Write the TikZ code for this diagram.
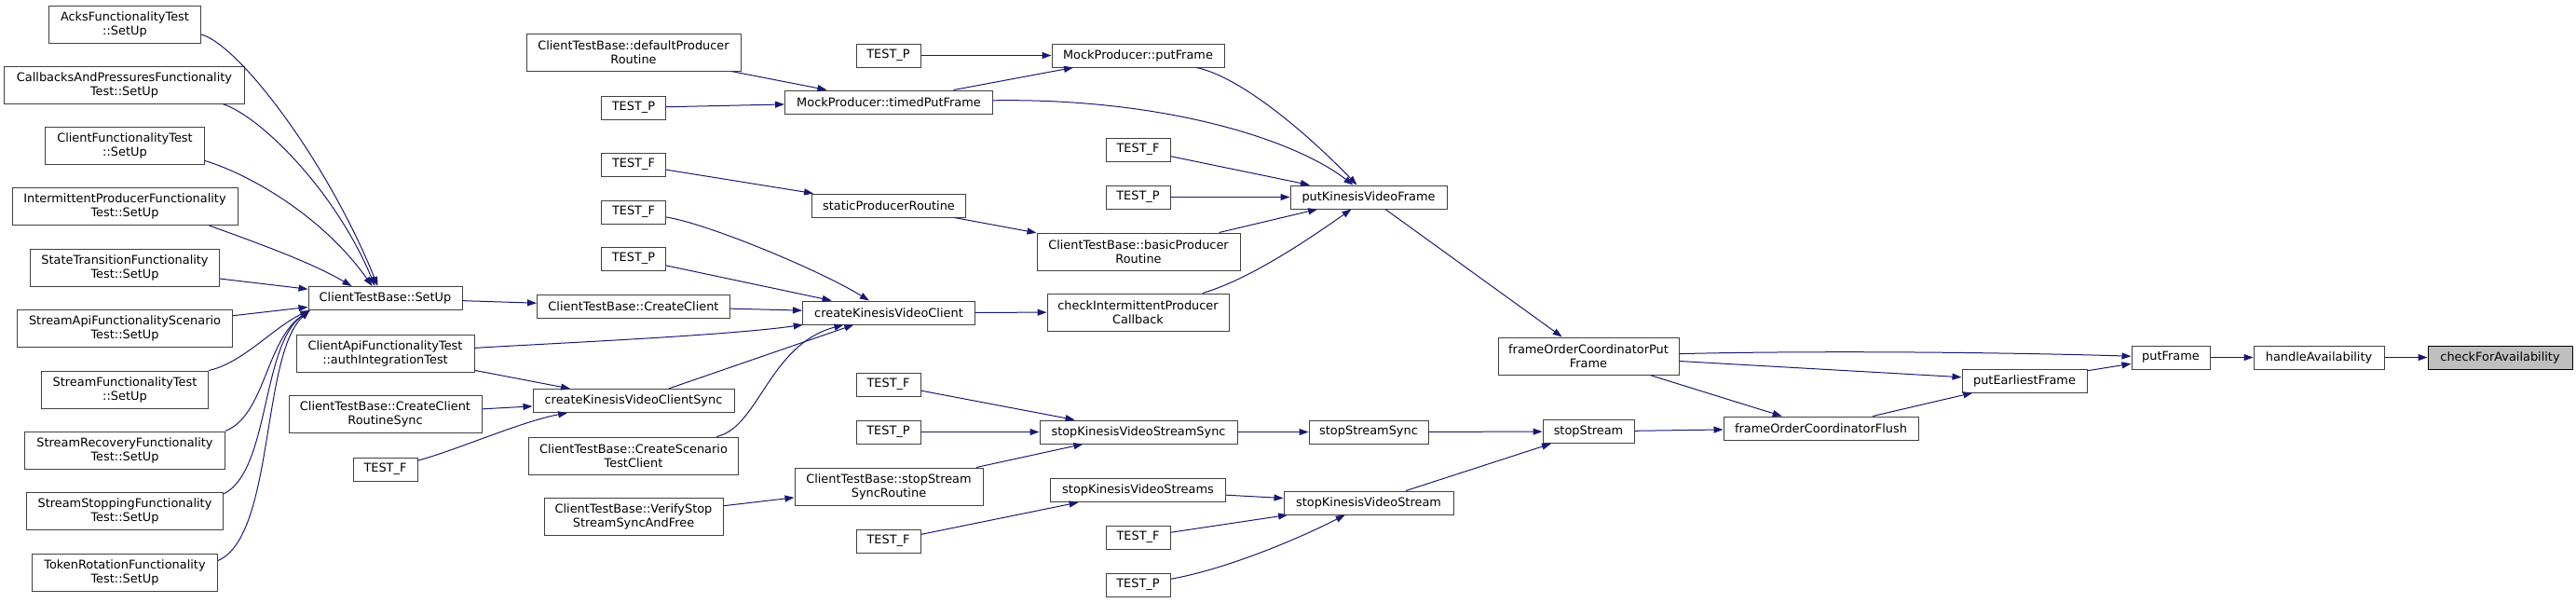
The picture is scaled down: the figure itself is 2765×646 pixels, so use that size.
\documentclass[tikz,border=0pt]{standalone}
\usepackage{fontspec}
\setmainfont{DejaVu Sans}
\usepackage{xcolor}
\usetikzlibrary{arrows.meta}
\definecolor{edgeblue}{HTML}{191970}
\definecolor{rootgray}{HTML}{BFBFBF}

\begin{document}
\begin{tikzpicture}[x=1pt,y=-1pt,>={Triangle[length=10pt,width=7pt]},
  fn/.style={draw=black!75,line width=1pt,fill=white,inner sep=0pt,minimum height=25pt,align=center,font=\fontsize{12.9}{15}\selectfont},
  fn2/.style={fn,minimum height=40pt},
  call/.style={->,edgeblue,line width=1pt}]
\useasboundingbox (0,0) rectangle (2765,646);
\node[fn2,minimum width=163pt] (acks) at (134,26) {AcksFunctionalityTest\\::SetUp};
\node[fn2,minimum width=258pt] (cbp) at (133.5,91) {CallbacksAndPressuresFunctionality\\Test::SetUp};
\node[fn2,minimum width=171pt] (cft) at (134,156) {ClientFunctionalityTest\\::SetUp};
\node[fn2,minimum width=242pt] (ipf) at (134,221.5) {IntermittentProducerFunctionality\\Test::SetUp};
\node[fn2,minimum width=203pt] (stf) at (134,287) {StateTransitionFunctionality\\Test::SetUp};
\node[fn2,minimum width=231pt] (saf) at (134,352) {StreamApiFunctionalityScenario\\Test::SetUp};
\node[fn2,minimum width=179pt] (sft) at (134,418) {StreamFunctionalityTest\\::SetUp};
\node[fn2,minimum width=215pt] (srf) at (134,483) {StreamRecoveryFunctionality\\Test::SetUp};
\node[fn2,minimum width=211pt] (ssf) at (134,548.5) {StreamStoppingFunctionality\\Test::SetUp};
\node[fn2,minimum width=199pt] (trf) at (134,614) {TokenRotationFunctionality\\Test::SetUp};
\node[fn,minimum width=165pt] (setup) at (413.5,320) {ClientTestBase::SetUp};
\node[fn2,minimum width=191pt] (auth) at (413.5,379) {ClientApiFunctionalityTest\\::authIntegrationTest};
\node[fn2,minimum width=207pt] (ccrs) at (413.5,444.5) {ClientTestBase::CreateClient\\RoutineSync};
\node[fn,minimum width=69pt] (tfa) at (413.5,503.5) {TEST\_F};
\node[fn2,minimum width=230pt] (dpr) at (680,56) {ClientTestBase::defaultProducer\\Routine};
\node[fn,minimum width=69pt] (tpa) at (680,115.5) {TEST\_P};
\node[fn,minimum width=69pt] (tfb) at (680,176.5) {TEST\_F};
\node[fn,minimum width=69pt] (tfc) at (680,227.5) {TEST\_F};
\node[fn,minimum width=69pt] (tpb) at (680,277.5) {TEST\_P};
\node[fn,minimum width=207pt] (ccl) at (680,328.5) {ClientTestBase::CreateClient};
\node[fn,minimum width=216pt] (sync) at (680,430) {createKinesisVideoClientSync};
\node[fn2,minimum width=225pt] (scen) at (680,489) {ClientTestBase::CreateScenario\\TestClient};
\node[fn2,minimum width=192pt] (vssf) at (680,554) {ClientTestBase::VerifyStop\\StreamSyncAndFree};
\node[fn,minimum width=69pt] (tpc) at (953.5,59.5) {TEST\_P};
\node[fn,minimum width=223pt] (timed) at (954,109.5) {MockProducer::timedPutFrame};
\node[fn,minimum width=165pt] (spr) at (954,220.5) {staticProducerRoutine};
\node[fn,minimum width=185pt] (ckvc) at (954,335.5) {createKinesisVideoClient};
\node[fn,minimum width=69pt] (tfd) at (953.5,412.5) {TEST\_F};
\node[fn,minimum width=69pt] (tpd) at (953.5,463.5) {TEST\_P};
\node[fn2,minimum width=202pt] (sssr) at (954,522) {ClientTestBase::stopStream\\SyncRoutine};
\node[fn,minimum width=69pt] (tfe) at (953.5,580.5) {TEST\_F};
\node[fn,minimum width=185pt] (mput) at (1221.5,59.5) {MockProducer::putFrame};
\node[fn,minimum width=69pt] (tff) at (1221.5,160.5) {TEST\_F};
\node[fn,minimum width=69pt] (tpf) at (1221.5,211.5) {TEST\_P};
\node[fn2,minimum width=218pt] (bpr) at (1222,270) {ClientTestBase::basicProducer\\Routine};
\node[fn2,minimum width=195pt] (cipc) at (1221.5,335) {checkIntermittentProducer\\Callback};
\node[fn,minimum width=212pt] (skss) at (1222,463.5) {stopKinesisVideoStreamSync};
\node[fn,minimum width=188pt] (skvss) at (1221.5,526) {stopKinesisVideoStreams};
\node[fn,minimum width=69pt] (tfg) at (1221.5,576.5) {TEST\_F};
\node[fn,minimum width=69pt] (tpg) at (1221.5,627.5) {TEST\_P};
\node[fn,minimum width=168pt] (pkvf) at (1469,211.5) {putKinesisVideoFrame};
\node[fn,minimum width=128pt] (sss) at (1469,463.5) {stopStreamSync};
\node[fn,minimum width=182pt] (skvs) at (1469,539.5) {stopKinesisVideoStream};
\node[fn2,minimum width=194pt] (focp) at (1705,382) {frameOrderCoordinatorPut\\Frame};
\node[fn,minimum width=98pt] (sst) at (1705,463) {stopStream};
\node[fn,minimum width=209pt] (focf) at (1954.5,459.5) {frameOrderCoordinatorFlush};
\node[fn,minimum width=134pt] (pef) at (2173,408.5) {putEarliestFrame};
\node[fn,minimum width=84pt] (pfr) at (2330,383.5) {putFrame};
\node[fn,minimum width=140pt] (hav) at (2489,383.5) {handleAvailability};
\node[fn,draw=black,fill=rootgray,minimum width=155pt] (cfa) at (2683.5,383.5) {checkForAvailability};
\foreach \a/\b in {stf/setup,saf/setup,setup/ccl,ccl/ckvc,auth/sync,ccrs/sync,sync/ckvc,tpb/ckvc,dpr/timed,tpa/timed,tfb/spr,tpc/mput,timed/mput,tff/pkvf,tpf/pkvf,spr/bpr,bpr/pkvf,ckvc/cipc,tfd/skss,tpd/skss,sssr/skss,vssf/sssr,tfe/skvss,skss/sss,skvss/skvs,tfg/skvs,sss/sst,skvs/sst,pkvf/focp,sst/focf,focp/focf,focp/pef,focf/pef,pef/pfr,pfr/hav,hav/cfa}{\draw[call] (\a) -- (\b);}
\draw[call] ([yshift=-11pt]acks.east) .. controls (255,47) and (350,170) .. ([xshift=-8pt]setup.north);
\draw[call] ([xshift=-24pt]cbp.south east) .. controls (280,125) and (360,205) .. ([xshift=-11pt]setup.north);
\draw[call] ([yshift=4pt]cft.south east) .. controls (265,186) and (345,230) .. ([xshift=-14pt]setup.north);
\draw[call] ([xshift=-31pt]ipf.south east) .. controls (280,262) and (335,282) .. ([xshift=-36pt]setup.north);
\draw[call] (sft.north east) .. controls (260,390) and (295,350) .. ([xshift=2pt]setup.south west);
\draw[call] (srf.north east) .. controls (285,445) and (285,365) .. ([xshift=2pt]setup.south west);
\draw[call] ([yshift=-2pt]ssf.north east) .. controls (290,505) and (280,370) .. ([xshift=2pt]setup.south west);
\draw[call] ([yshift=-8pt]trf.north east) .. controls (295,575) and (280,380) .. ([xshift=2pt]setup.south west);
\draw[call] (tfa) .. controls (490,483) and (560,452) .. (sync);
\draw[call] (auth) .. controls (600,368) and (780,360) .. (ckvc);
\draw[call] (scen) .. controls (815,458) and (825,370) .. (ckvc);
\draw[call] (tfc) .. controls (760,240) and (880,290) .. (ckvc);
\draw[call] (timed) .. controls (1250,105) and (1390,150) .. (pkvf);
\draw[call] (mput) .. controls (1330,82) and (1400,140) .. (pkvf);
\draw[call] (cipc) .. controls (1340,300) and (1400,260) .. (pkvf);
\draw[call] (tpg) .. controls (1320,610) and (1400,575) .. (skvs);
\draw[call] (focp) .. controls (1950,376) and (2150,378) .. (pfr);
\end{tikzpicture}
\end{document}
